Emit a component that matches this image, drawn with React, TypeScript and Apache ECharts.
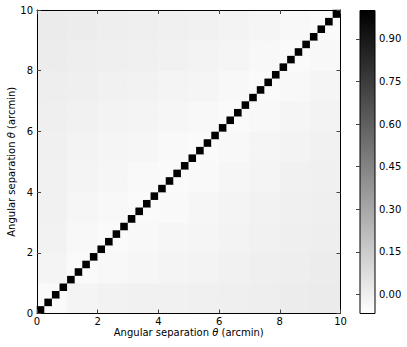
import React, { useEffect, useRef } from 'react';
import * as echarts from 'echarts';

// bin centres of the 40 angular bins (arcmin)
const binCenters = [
  0.125, 0.375, 0.625, 0.875, 1.125, 1.375, 1.625, 1.875, 2.125, 2.375,
  2.625, 2.875, 3.125, 3.375, 3.625, 3.875, 4.125, 4.375, 4.625, 4.875,
  5.125, 5.375, 5.625, 5.875, 6.125, 6.375, 6.625, 6.875, 7.125, 7.375,
  7.625, 7.875, 8.125, 8.375, 8.625, 8.875, 9.125, 9.375, 9.625, 9.875,
];

// correlation on the diagonal
const diagonalValues = [
  1, 1, 1, 1, 1, 1, 1, 1, 1, 1,
  1, 1, 1, 1, 1, 1, 1, 1, 1, 1,
  1, 1, 1, 1, 1, 1, 1, 1, 1, 1,
  1, 1, 1, 1, 1, 1, 1, 1, 1, 1,
];

// off-diagonal correlation read per 1-arcmin block (row = y block from bottom, col = x block)
const blockRow0 = [-0.048, -0.020, -0.013, -0.009, -0.008, -0.004, 0.001, 0.006, 0.011, 0.016];
const blockRow1 = [-0.020, -0.048, -0.037, -0.028, -0.023, -0.018, -0.009, 0.001, 0.006, 0.011];
const blockRow2 = [-0.013, -0.037, -0.048, -0.037, -0.031, -0.026, -0.018, -0.009, 0.001, 0.006];
const blockRow3 = [-0.009, -0.028, -0.037, -0.048, -0.041, -0.031, -0.022, -0.013, -0.004, 0.001];
const blockRow4 = [-0.008, -0.023, -0.031, -0.041, -0.048, -0.041, -0.031, -0.022, -0.009, -0.004];
const blockRow5 = [-0.004, -0.018, -0.026, -0.031, -0.041, -0.048, -0.037, -0.026, -0.018, -0.009];
const blockRow6 = [0.001, -0.009, -0.018, -0.022, -0.031, -0.037, -0.048, -0.037, -0.026, -0.018];
const blockRow7 = [0.006, 0.001, -0.009, -0.013, -0.022, -0.026, -0.037, -0.048, -0.037, -0.026];
const blockRow8 = [0.011, 0.006, 0.001, -0.004, -0.009, -0.018, -0.026, -0.037, -0.048, -0.037];
const blockRow9 = [0.016, 0.011, 0.006, 0.001, -0.004, -0.009, -0.018, -0.026, -0.037, -0.048];
const blockRows = [blockRow0, blockRow1, blockRow2, blockRow3, blockRow4, blockRow5, blockRow6, blockRow7, blockRow8, blockRow9];

const axisTicks = [0, 2, 4, 6, 8, 10];
const colorbarTicks = [0, 0.15, 0.3, 0.45, 0.6, 0.75, 0.9];
const colorMin = -0.067;
const colorMax = 1.0;

const FONT = 'DejaVu Sans';

export default function App() {
  const ref = useRef<HTMLDivElement>(null);
  useEffect(() => {
    if (!ref.current) return;
    const chart = echarts.init(ref.current, undefined, { renderer: 'svg' });
    const cellsPerBlock = binCenters.length / blockRows.length;
    const data: number[][] = [];
    for (let j = 0; j < binCenters.length; j++) {
      for (let i = 0; i < binCenters.length; i++) {
        const v = i === j ? diagonalValues[i] : blockRows[Math.floor(j / cellsPerBlock)][Math.floor(i / cellsPerBlock)];
        data.push([i, j, v]);
      }
    }
    const cats = binCenters.map(String);
    const tickStyle = { show: true, inside: true, length: 4, lineStyle: { color: '#444', width: 1 } };
    const lineStyle = { show: true, lineStyle: { color: '#000', width: 1 } };
    const labelStyle = { fontFamily: FONT, fontSize: 10, color: '#000' };
    const nameStyle = {
      fontFamily: FONT, fontSize: 10, color: '#000',
      rich: { i: { fontFamily: FONT, fontSize: 10, fontStyle: 'italic', color: '#000' } },
    };
    const valueAxisBase = {
      type: 'value', min: axisTicks[0], max: axisTicks[axisTicks.length - 1], interval: 2,
      splitLine: { show: false }, z: 10,
    };
    chart.setOption({
      animation: false,
      grid: [
        { left: 37, top: 10, width: 303.5, height: 303.5, outerBoundsMode: 'none', containLabel: false },
        {
          left: 360, top: 10.5, width: 15, height: 303, show: true,
          outerBoundsMode: 'none', containLabel: false,
          borderColor: '#000', borderWidth: 1,
          backgroundColor: new echarts.graphic.LinearGradient(0, 0, 0, 1, [
            { offset: 0, color: '#000000' },
            { offset: 1, color: '#ffffff' },
          ]),
        },
      ],
      visualMap: {
        show: false, min: colorMin, max: colorMax, dimension: 2, seriesIndex: 0,
        inRange: { color: ['#ffffff', '#000000'] },
      },
      xAxis: [
        { type: 'category', data: cats, gridIndex: 0, show: false },
        {
          ...valueAxisBase, gridIndex: 0, position: 'bottom',
          axisLine: lineStyle, axisTick: tickStyle,
          axisLabel: { ...labelStyle, margin: 3 },
          name: 'Angular separation {i|θ} (arcmin)', nameLocation: 'middle', nameGap: 14,
          nameMoveOverlap: false,
          nameTextStyle: nameStyle,
        },
        {
          ...valueAxisBase, gridIndex: 0, position: 'top',
          axisLine: lineStyle, axisTick: tickStyle, axisLabel: { show: false },
        },
        { type: 'value', gridIndex: 1, show: false, min: 0, max: 1 },
      ],
      yAxis: [
        { type: 'category', data: cats, gridIndex: 0, show: false },
        {
          ...valueAxisBase, gridIndex: 0, position: 'left',
          axisLine: lineStyle, axisTick: tickStyle,
          axisLabel: { ...labelStyle, margin: 4 },
          name: 'Angular separation {i|θ} (arcmin)', nameLocation: 'middle', nameGap: 21,
          nameMoveOverlap: false,
          nameTextStyle: nameStyle,
        },
        {
          ...valueAxisBase, gridIndex: 0, position: 'right',
          axisLine: lineStyle, axisTick: tickStyle, axisLabel: { show: false },
        },
        {
          type: 'value', gridIndex: 1, position: 'right', min: colorMin, max: colorMax,
          splitLine: { show: false }, z: 10,
          axisLine: { show: false },
          axisTick: { ...tickStyle, customValues: colorbarTicks },
          axisLabel: {
            ...labelStyle, margin: 4, customValues: colorbarTicks,
            formatter: (v: number) => v.toFixed(2),
          },
        },
      ],
      series: [
        {
          type: 'heatmap', xAxisIndex: 0, yAxisIndex: 0, data,
          emphasis: { disabled: true }, itemStyle: { borderWidth: 0 },
        },
      ],
    });
    return () => chart.dispose();
  }, []);
  return <div ref={ref} style={{ position: 'fixed', left: 0, top: 0, width: 407, height: 347, background: '#fff' }} />;
}
